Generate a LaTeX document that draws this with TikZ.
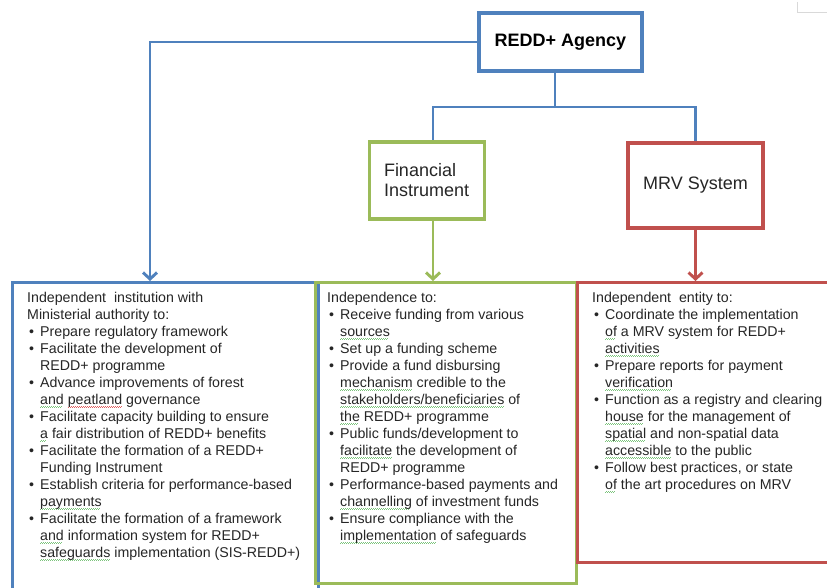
\documentclass[tikz,border=0pt]{standalone}
\usepackage{fontspec}
\setmainfont{Liberation Sans}
\usetikzlibrary{arrows.meta}

\definecolor{agblue}{HTML}{4F81BD}
\definecolor{fingreen}{HTML}{9BBB59}
\definecolor{mrvred}{HTML}{C0504D}
\definecolor{sqgreen}{HTML}{7CC47C}
\definecolor{sqred}{HTML}{E06060}
\definecolor{ink}{HTML}{262626}

% wavy proofing underline: colour, word
\newcommand\wavebox[2]{\setbox0=\hbox{#2}\rlap{\color{#1}\lower3pt\hbox to \wd0{\leaders\hbox to 2pt{\vrule width 1pt height 0.7pt\raise0.7pt\hbox{\vrule width 1pt height 0.7pt}}\hfill}}\box0\relax}
\newcommand\gsq[1]{\wavebox{sqgreen}{#1}}
\newcommand\rsq[1]{\wavebox{sqred}{#1}}
% bullet and hanging indent for the lists
\newcommand\bu{\makebox[13pt][l]{\hspace{2pt}\textbullet}}
\newcommand\ind{\hspace*{13pt}}

\begin{document}
\begin{tikzpicture}[x=1pt,y=-1pt,
  box/.style={draw, line width=3.1pt, rectangle, inner sep=0pt},
  link/.style={line width=2.9pt},
  tip/.style={-{Straight Barb[length=6.5pt,width=14pt]}},
  body/.style={anchor=north west, inner sep=0pt, align=left, text=ink,
               font=\fontsize{14.2}{17}\selectfont},
  head/.style={text=ink, font=\fontsize{18}{20}\selectfont}]

\clip (0,0) rectangle (827,588);
\fill[white] (0,0) rectangle (827,588);

% small corner mark at the top right
\draw[gray!30, line width=0.8pt] (797,2) -- (797,12) -- (827,12);

% top level and second level boxes
\node[box, draw=agblue, minimum width=163pt, minimum height=58pt,
      text=black, font=\bfseries\fontsize{18}{20}\selectfont] (ag) at (560.5,42) {REDD+ Agency};
\node[box, draw=fingreen, minimum width=115pt, minimum height=77pt,
      head, text width=86pt, align=left] (fin) at (427,180.5) {Financial\\Instrument};
\node[box, draw=mrvred, minimum width=135pt, minimum height=85pt, head] (mrv) at (695.5,185.5) {MRV System};

% branch points
\coordinate (bus) at (555,107);
\coordinate (finx) at (433,0);
\coordinate (lbx) at (150,0);

% large boxes
\node[box, draw=agblue, minimum width=306pt, minimum height=340pt, anchor=north west] (lb) at (11,281) {};
\node[box, draw=fingreen, minimum width=261pt, minimum height=301pt, anchor=north west] (gb) at (314,281) {};
\node[box, draw=mrvred, minimum width=270pt, minimum height=280pt, anchor=north west] (rb) at (576,281) {};

% connectors
\draw[link, agblue] (bus |- ag.south) -- (bus) -| (finx |- fin.north);
\draw[link, agblue] (bus) -| (mrv.north);
\draw[link, agblue, tip] (ag.west) -| (lbx |- lb.north);
\draw[link, fingreen, tip] (finx |- fin.south) -- (finx |- gb.north);
\draw[link, mrvred, tip] (mrv.south) -- (mrv.south |- rb.north);

% box texts
\node[body] (lbt) at (27,291.8) {%
Independent~ institution with\\
Ministerial authority to:\\
\bu Prepare regulatory framework\\
\bu Facilitate the development of\\
\ind REDD+ programme\\
\bu Advance improvements of forest\\
\ind \gsq{and} \rsq{peatland} governance\\
\bu Facilitate capacity building to ensure\\
\ind \gsq{a} fair distribution of REDD+ benefits\\
\bu Facilitate the formation of a REDD+\\
\ind Funding Instrument\\
\bu Establish criteria for performance-based\\
\ind \gsq{payments}\\
\bu Facilitate the formation of a framework\\
\ind \gsq{and} information system for REDD+\\
\ind \gsq{safeguards} implementation (SIS-REDD+)};

\node[body] (gbt) at (327,291.8) {%
Independence to:\\
\bu Receive funding from various\\
\ind \gsq{sources}\\
\bu Set up a funding scheme\\
\bu Provide a fund disbursing\\
\ind \gsq{mechanism} credible to the\\
\ind \gsq{stakeholders/beneficiaries} of\\
\ind \gsq{the} REDD+ programme\\
\bu Public funds/development to\\
\ind \gsq{facilitate} the development of\\
\ind REDD+ programme\\
\bu Performance-based payments and\\
\ind \gsq{channelling} of investment funds\\
\bu Ensure compliance with the\\
\ind \gsq{implementation} of safeguards};

\node[body] (rbt) at (592,291.8) {%
Independent~ entity to:\\
\bu Coordinate the implementation\\
\ind \gsq{of} a MRV system for REDD+\\
\ind \gsq{activities}\\
\bu Prepare reports for payment\\
\ind \gsq{verification}\\
\bu Function as a registry and clearing\\
\ind \gsq{house} for the management of\\
\ind \gsq{spatial} and non-spatial data\\
\ind \gsq{accessible} to the public\\
\bu Follow best practices, or state\\
\ind \gsq{of} the art procedures on MRV};

\end{tikzpicture}
\end{document}
